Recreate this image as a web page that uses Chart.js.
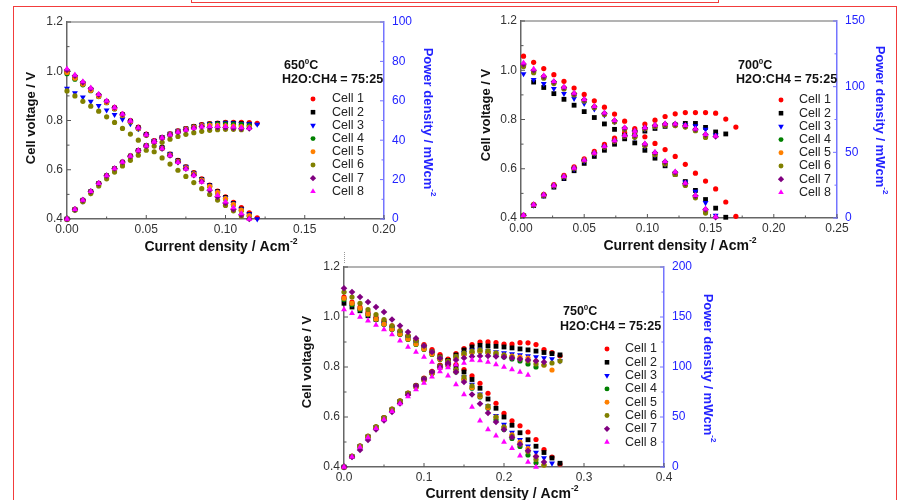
<!DOCTYPE html>
<html>
<head>
<meta charset="utf-8">
<script src="https://cdn.jsdelivr.net/npm/chart.js"></script>
<style>
  html, body { margin: 0; padding: 0; background: #fff; }
  #page { position: relative; width: 901px; height: 500px; overflow: hidden; }
  canvas { position: absolute; left: 0; top: 0; }
  .frame { position: absolute; left: 13px; top: 6px; width: 882px; height: 540px; border: 1.5px solid #f23c3c; }
  .topbox { position: absolute; left: 191px; top: -8px; width: 526px; height: 9px; border: 1.2px solid #f23c3c; }
  .dots { position: absolute; left: 344px; top: 252px; height: 11px; border-left: 1px dotted #999; }
</style>
</head>
<body>
<div id="page">
  <div class="frame"></div>
  <div class="topbox"></div>
  <div class="dots"></div>
  <canvas id="c650" width="901" height="500"></canvas>
  <canvas id="c700" width="901" height="500"></canvas>
  <canvas id="c750" width="901" height="500"></canvas>
</div>
<script>
// ---- data ----
const cells = ['Cell 1', 'Cell 2', 'Cell 3', 'Cell 4', 'Cell 5', 'Cell 6', 'Cell 7', 'Cell 8'];

// 650 C : current density (A/cm2), voltage (V), power (mW/cm2)
const i650 = [0.000,0.005,0.010,0.015,0.020,0.025,0.030,0.035,0.040,0.045,0.050,0.055,0.060,0.065,0.070,0.075,0.080,0.085,0.090,0.095,0.100,0.105,0.110,0.115,0.120];
const v650c1 = [1.000,0.978,0.952,0.928,0.903,0.878,0.853,0.826,0.800,0.773,0.745,0.718,0.690,0.664,0.638,0.612,0.588,0.563,0.538,0.513,0.490,0.468,0.446,0.425,0.405];
const p650c1 = [0,4.9,9.5,13.9,18.1,22.0,25.6,28.9,32.0,34.8,37.3,39.5,41.4,43.2,44.7,45.9,47.0,47.9,48.4,48.7,49.0,49.1,49.1,48.9,48.6];
const v650c2 = [0.998,0.975,0.950,0.925,0.900,0.875,0.850,0.823,0.797,0.770,0.743,0.716,0.690,0.663,0.637,0.611,0.586,0.561,0.536,0.511,0.487,0.463,0.440,0.418];
const p650c2 = [0,4.9,9.5,13.9,18.0,21.9,25.5,28.8,31.9,34.7,37.2,39.4,41.4,43.1,44.6,45.8,46.9,47.7,48.2,48.5,48.7,48.6,48.4,48.1];
const v650c3 = [0.930,0.912,0.895,0.877,0.860,0.842,0.824,0.805,0.786,0.766,0.742,0.716,0.690,0.663,0.637,0.611,0.586,0.561,0.536,0.511,0.487,0.463,0.440,0.420,0.400];
const p650c3 = [0,4.6,9.0,13.2,17.2,21.1,24.7,28.2,31.4,34.5,37.1,39.4,41.4,43.1,44.6,45.8,46.9,47.7,48.2,48.5,48.7,48.6,48.4,48.3,48.0];
const v650c4 = [0.990,0.968,0.945,0.921,0.897,0.872,0.847,0.820,0.794,0.767,0.740,0.713,0.686,0.659,0.633,0.607,0.582,0.557,0.532,0.507,0.482,0.458,0.435,0.412];
const p650c4 = [0,4.8,9.5,13.8,17.9,21.8,25.4,28.7,31.8,34.5,37.0,39.2,41.2,42.8,44.3,45.5,46.6,47.3,47.9,48.2,48.2,48.1,47.9,47.4];
const v650c5 = [0.995,0.972,0.948,0.923,0.898,0.873,0.848,0.821,0.795,0.768,0.741,0.714,0.687,0.660,0.634,0.608,0.583,0.558,0.533,0.508,0.483,0.459,0.436,0.414];
const p650c5 = [0,4.9,9.5,13.8,18.0,21.8,25.4,28.7,31.8,34.6,37.1,39.3,41.2,42.9,44.4,45.6,46.6,47.4,47.6,47.5,47.3,47.1,46.9,46.7];
const v650c6 = [0.920,0.900,0.878,0.858,0.838,0.815,0.792,0.768,0.745,0.720,0.697,0.673,0.648,0.623,0.598,0.573,0.548,0.523,0.500,0.477,0.455,0.433,0.412];
const p650c6 = [0,4.5,8.8,12.9,16.8,20.4,23.8,26.9,29.8,32.4,34.9,37.0,38.9,40.5,41.9,43.0,43.8,44.5,45.0,45.3,45.5,45.5,45.3];
const v650c7 = [1.005,0.982,0.955,0.930,0.905,0.878,0.852,0.825,0.798,0.770,0.742,0.714,0.686,0.658,0.631,0.604,0.578,0.552,0.517,0.490,0.465,0.440,0.417,0.400];
const p650c7 = [0,4.9,9.6,14.0,18.1,22.0,25.6,28.9,31.9,34.7,37.1,39.3,41.2,42.8,44.2,45.3,46.2,46.9,46.5,46.6,46.5,46.2,45.9,46.0];
const v650c8 = [1.010,0.985,0.958,0.932,0.906,0.880,0.853,0.826,0.798,0.770,0.742,0.714,0.686,0.658,0.630,0.603,0.576,0.550,0.522,0.496,0.470,0.446,0.422,0.400];
const p650c8 = [0,4.9,9.6,14.0,18.1,22.0,25.6,28.9,31.9,34.7,37.1,39.3,41.2,42.8,44.1,45.2,46.1,46.8,47.0,47.1,47.0,46.8,46.4,46.0];

// 700 C
const i700 = [0.002,0.010,0.018,0.026,0.034,0.042,0.050,0.058,0.066,0.074,0.082,0.090,0.098,0.106,0.114,0.122,0.130,0.138,0.146,0.154,0.162,0.170];
const v700c1 = [1.057,1.032,1.007,0.982,0.955,0.928,0.902,0.876,0.850,0.822,0.793,0.757,0.730,0.703,0.678,0.650,0.618,0.582,0.550,0.518,0.465,0.407];
const p700c1 = [2.1,10.3,18.1,25.5,32.5,39.0,45.1,50.8,56.1,60.8,65.0,68.1,71.5,74.5,77.3,79.3,80.3,80.3,80.3,79.8,75.3,69.2];
const v700c2 = [null,0.952,0.930,0.905,0.882,0.858,0.832,0.808,0.782,0.760,0.735,0.705,0.675,0.643,0.612,0.578,0.548,0.512,0.475,0.440,0.403];
const p700c2 = [null,9.5,16.7,23.5,30.0,36.0,41.6,46.9,51.6,56.2,60.3,63.5,66.2,68.2,69.8,71.0,72.0,72.0,69.0,65.5,64.0];
const v700c3 = [0.985,0.962,0.945,0.925,0.905,0.885,0.865,0.842,0.818,0.790,0.760,0.727,0.690,0.655,0.618,0.580,0.545,0.508,0.462,0.410];
const p700c3 = [2.0,9.6,17.0,24.1,30.8,37.2,43.3,48.8,54.0,58.5,62.3,65.4,67.6,69.4,70.5,70.8,70.9,70.1,67.5,63.1];
const v700c4 = [1.020,0.995,0.972,0.950,0.928,0.903,0.878,0.850,0.822,0.792,0.762,0.730,0.695,0.660,0.622,0.580,0.535,0.485,0.425];
const p700c4 = [2.0,10.0,17.5,24.7,31.6,37.9,43.9,49.3,54.3,58.6,62.5,65.7,68.1,70.0,70.9,70.8,69.6,66.9,62.1];
const v700c5 = [1.022,0.997,0.974,0.951,0.929,0.904,0.879,0.851,0.823,0.793,0.763,0.731,0.696,0.661,0.623,0.581,0.536,0.486,0.428];
const p700c5 = [2.0,10.0,17.5,24.7,31.6,38.0,44.0,49.4,54.3,58.7,62.6,65.8,68.2,70.1,71.0,70.9,69.7,67.1,62.5];
const v700c6 = [1.015,0.990,0.968,0.946,0.924,0.900,0.875,0.848,0.820,0.790,0.760,0.728,0.693,0.657,0.619,0.577,0.532,0.482,0.420];
const p700c6 = [2.0,9.9,17.4,24.6,31.4,37.8,43.8,49.2,54.1,58.5,62.3,65.5,67.9,69.6,70.6,70.4,69.2,66.5,61.3];
const v700c7 = [1.025,1.000,0.975,0.953,0.930,0.905,0.880,0.852,0.825,0.795,0.765,0.735,0.700,0.665,0.628,0.586,0.540,0.490,0.435,0.403];
const p700c7 = [2.1,10.0,17.6,24.8,31.6,38.0,44.0,49.4,54.5,58.8,62.7,66.2,68.6,70.5,71.6,71.5,70.2,67.6,63.5,62.0];
const v700c8 = [1.030,1.005,0.978,0.955,0.932,0.907,0.882,0.854,0.827,0.797,0.767,0.737,0.702,0.667,0.630,0.588,0.542,0.492,0.437,0.405];
const p700c8 = [2.1,10.1,17.6,24.8,31.7,38.1,44.1,49.5,54.6,59.0,62.9,66.3,68.8,70.7,71.8,71.7,70.5,67.9,63.8,62.4];

// 750 C
const i750 = [0.00,0.01,0.02,0.03,0.04,0.05,0.06,0.07,0.08,0.09,0.10,0.11,0.12,0.13,0.14,0.15,0.16,0.17,0.18,0.19,0.20,0.21,0.22,0.23,0.24,0.25,0.26,0.27];
const v750c1 = [1.080,1.060,1.040,1.020,1.000,0.985,0.965,0.945,0.925,0.908,0.890,0.870,0.850,0.830,0.810,0.790,0.765,0.735,0.695,0.655,0.615,0.585,0.565,0.540,0.510,0.470,0.440,0.412];
const p750c1 = [0,10.6,20.8,30.6,40.0,49.3,57.9,66.2,74.0,81.7,89.0,95.7,102.0,107.9,113.4,118.5,122.4,125.0,125.1,124.5,123.0,122.9,124.3,124.2,122.4,117.5,114.4,111.2];
const v750c2 = [1.055,1.040,1.025,1.005,0.990,0.975,0.955,0.935,0.920,0.900,0.880,0.860,0.840,0.820,0.800,0.780,0.750,0.715,0.672,0.635,0.600,0.567,0.537,0.509,0.483,0.458,0.436,0.415];
const p750c2 = [0,10.4,20.5,30.2,39.6,48.8,57.3,65.5,73.6,81.0,88.0,94.6,100.8,106.6,112.0,117.0,120.0,121.6,121.0,120.7,120.0,119.1,118.1,117.1,115.9,114.5,113.4,112.1];
const v750c3 = [1.070,1.050,1.030,1.010,0.990,0.972,0.955,0.935,0.915,0.895,0.875,0.855,0.835,0.810,0.785,0.760,0.730,0.691,0.644,0.605,0.570,0.538,0.509,0.483,0.458,0.436,0.415];
const p750c3 = [0,10.5,20.6,30.3,39.6,48.6,57.3,65.5,73.2,80.6,87.5,94.1,100.2,105.3,109.9,114.0,116.8,117.5,116.0,115.0,114.0,113.0,112.0,111.0,110.0,109.0,108.0,106.0];
const v750c4 = [1.070,1.050,1.030,1.010,0.990,0.970,0.950,0.930,0.910,0.890,0.870,0.850,0.830,0.805,0.780,0.750,0.715,0.680,0.635,0.589,0.550,0.514,0.482,0.448,0.417];
const p750c4 = [0,10.5,20.6,30.3,39.6,48.5,57.0,65.1,72.8,80.1,87.0,93.5,99.6,104.7,109.2,112.5,114.4,115.6,114.3,112.0,110.0,108.0,106.0,103.0,100.0];
const v750c5 = [1.075,1.055,1.035,1.012,0.992,0.972,0.952,0.932,0.912,0.892,0.872,0.852,0.832,0.807,0.782,0.752,0.718,0.683,0.638,0.600,0.560,0.529,0.500,0.474,0.442,0.408];
const p750c5 = [0,10.6,20.7,30.4,39.7,48.6,57.1,65.2,73.0,80.3,87.2,93.7,99.8,104.9,109.5,112.8,114.9,116.1,114.8,114.0,112.0,111.0,110.0,109.0,106.0,102.0,97.0];
const v750c6 = [1.100,1.080,1.055,1.030,1.010,0.990,0.965,0.945,0.925,0.905,0.885,0.862,0.840,0.815,0.790,0.760,0.725,0.688,0.644,0.600,0.560,0.524,0.491,0.461,0.430,0.408];
const p750c6 = [0,10.8,21.1,30.9,40.4,49.5,57.9,66.2,74.0,81.5,88.5,94.8,100.8,106.0,110.6,114.0,116.0,117.0,116.0,114.0,112.0,110.0,108.0,106.0,103.0,102.0,104.0,106.0];
const v750c7 = [1.115,1.100,1.080,1.060,1.040,1.020,0.990,0.965,0.940,0.915,0.885,0.860,0.835,0.810,0.780,0.740,0.690,0.653,0.616,0.580,0.550,0.519,0.491,0.465,0.442,0.420];
const p750c7 = [0,10.0,17.0,27.0,37.5,46.5,55.0,63.5,72.0,81.0,88.0,95.0,100.0,104.0,107.0,109.0,110.5,111.0,111.0,110.5,110.0,109.0,108.0,107.0,106.0,105.0];
const v750c8 = [1.030,1.015,1.000,0.985,0.968,0.950,0.930,0.905,0.880,0.860,0.840,0.820,0.795,0.765,0.730,0.690,0.640,0.585,0.550,0.525,0.500,0.475,0.445,0.420,0.400];
const p750c8 = [0,10.2,20.0,29.5,38.7,47.5,55.8,63.4,70.4,77.4,84.0,90.2,95.4,99.5,102.2,104.0,107.0,106.5,105.0,102.5,100.0,97.5,95.0,92.0];

// axis ticks
const vTicks = { min: 0.4, max: 1.2, step: 0.2 };
const xTicks650 = { max: 0.20, step: 0.05 };
const xTicks700 = { max: 0.25, step: 0.05 };
const xTicks750 = { max: 0.4, step: 0.1 };
const pTicks650 = { max: 100, step: 20 };
const pTicks700 = { max: 150, step: 50 };
const pTicks750 = { max: 200, step: 50 };

// ---- styles ----
const FONT = '"Liberation Sans", Arial, sans-serif';
const colors = ['#ff0000', '#000000', '#0000ff', '#008000', '#ff8000', '#808000', '#800080', '#ff00ff'];
const styles = ['circle', 'rect', 'triangle', 'circle', 'circle', 'circle', 'rectRot', 'triangle'];
const rotations = [0, 0, 180, 0, 0, 0, 0, 0];
const radii = [2.6, 3.4, 3.4, 2.6, 2.6, 2.6, 3.3, 3.4];
const BLUE_AXIS = '#7474ff';
const BLUE_TEXT = '#2323ff';
const AXW = 40, AXH = 30;

Chart.defaults.font.family = FONT;

function pts(cur, vals) {
  const out = [];
  vals.forEach((v, i) => { if (v !== null) out.push({ x: cur[i], y: v }); });
  return out;
}

function marker(ctx, st, x, y, r, rot) {
  ctx.beginPath();
  if (st === 'circle') {
    ctx.arc(x, y, r, 0, Math.PI * 2);
  } else if (st === 'rect') {
    const s = r * Math.SQRT1_2;
    ctx.rect(x - s, y - s, 2 * s, 2 * s);
  } else if (st === 'rectRot') {
    ctx.moveTo(x - r, y); ctx.lineTo(x, y - r); ctx.lineTo(x + r, y); ctx.lineTo(x, y + r); ctx.closePath();
  } else {
    let a = rot * Math.PI / 180;
    for (let k = 0; k < 3; k++) {
      const px = x + Math.sin(a) * r, py = y - Math.cos(a) * r;
      if (k) ctx.lineTo(px, py); else ctx.moveTo(px, py);
      a += 2 * Math.PI / 3;
    }
    ctx.closePath();
  }
  ctx.fill();
}

function supText(ctx, main, sup, size, color) {
  // draws centred at 0,0
  ctx.fillStyle = color;
  ctx.textBaseline = 'middle';
  ctx.textAlign = 'left';
  ctx.font = `bold ${size}px ${FONT}`;
  const w1 = ctx.measureText(main).width;
  ctx.font = `bold ${size * 0.62}px ${FONT}`;
  const w2 = ctx.measureText(sup).width;
  const x0 = -(w1 + w2) / 2;
  ctx.font = `bold ${size}px ${FONT}`;
  ctx.fillText(main, x0, 0);
  ctx.font = `bold ${size * 0.62}px ${FONT}`;
  ctx.fillText(sup, x0 + w1, -size * 0.38);
}

const decor = {
  id: 'decor',
  beforeDatasetsDraw(chart) {
    const { ctx, chartArea: a, scales } = chart;
    ctx.save();
    ctx.strokeStyle = '#9a9a9a';
    ctx.lineWidth = 1.5;
    ctx.beginPath(); ctx.moveTo(a.left, a.top); ctx.lineTo(a.right, a.top); ctx.stroke();
    const tickSet = (scale) => {
      const v = scale.ticks.map(t => t.value);
      const out = v.map(val => [val, 4]);
      for (let k = 0; k < v.length - 1; k++) out.push([(v[k] + v[k + 1]) / 2, 2.5]);
      return out;
    };
    ctx.lineWidth = 1;
    ctx.strokeStyle = '#555';
    tickSet(scales.x).forEach(([val, len]) => {
      const px = scales.x.getPixelForValue(val);
      ctx.beginPath(); ctx.moveTo(px, a.bottom); ctx.lineTo(px, a.bottom - len); ctx.stroke();
    });
    tickSet(scales.y).forEach(([val, len]) => {
      const py = scales.y.getPixelForValue(val);
      ctx.beginPath(); ctx.moveTo(a.left, py); ctx.lineTo(a.left + len, py); ctx.stroke();
    });
    ctx.strokeStyle = BLUE_AXIS;
    tickSet(scales.y2).forEach(([val, len]) => {
      const py = scales.y2.getPixelForValue(val);
      ctx.beginPath(); ctx.moveTo(a.right, py); ctx.lineTo(a.right - len, py); ctx.stroke();
    });
    ctx.restore();
  },
  afterDraw(chart, args, o) {
    const { ctx } = chart;
    ctx.save();
    // axis titles
    ctx.save(); ctx.translate(o.yTitle[0], o.yTitle[1]); ctx.rotate(-Math.PI / 2);
    supText(ctx, 'Cell voltage / V', '', 13, '#111'); ctx.restore();
    ctx.save(); ctx.translate(o.xTitle[0], o.xTitle[1]);
    supText(ctx, 'Current density / Acm', '-2', 14, '#111'); ctx.restore();
    ctx.save(); ctx.translate(o.pTitle[0], o.pTitle[1]); ctx.rotate(Math.PI / 2);
    supText(ctx, 'Power density / mWcm', '-2', 13, BLUE_TEXT); ctx.restore();

    // temperature and gas ratio
    ctx.fillStyle = '#111';
    ctx.textBaseline = 'middle';
    ctx.textAlign = 'left';
    ctx.font = `bold 12.5px ${FONT}`;
    let x = o.note[0];
    ctx.fillText(o.temp, x, o.note[2]);
    x += ctx.measureText(o.temp).width;
    ctx.font = `bold 8px ${FONT}`;
    ctx.fillText('0', x, o.note[2] - 4.5);
    x += ctx.measureText('0').width;
    ctx.font = `bold 12.5px ${FONT}`;
    ctx.fillText('C', x, o.note[2]);
    ctx.fillText('H2O:CH4 = 75:25', o.note[1], o.note[3]);

    // legend
    ctx.font = `12.5px ${FONT}`;
    cells.forEach((name, k) => {
      const y = o.legend[2] + k * o.legend[3];
      ctx.fillStyle = colors[k];
      marker(ctx, styles[k], o.legend[0], y, radii[k] * 0.95, rotations[k]);
      ctx.fillStyle = '#222';
      ctx.fillText(name, o.legend[1], y);
    });
    ctx.restore();
  }
};

function makeChart(id, cur, vSets, pSets, xt, pt, dec, lay) {
  const a = lay.area;
  const datasets = [];
  cells.forEach((name, k) => {
    const common = {
      pointStyle: styles[k], pointRotation: rotations[k], pointRadius: radii[k],
      backgroundColor: colors[k], borderColor: colors[k], pointBorderWidth: 0, borderWidth: 0,
      showLine: false, clip: false, order: 7 - k
    };
    datasets.push(Object.assign({ label: name + ' V', data: pts(cur, vSets[k]), yAxisID: 'y' }, common));
    datasets.push(Object.assign({ label: name + ' P', data: pts(cur, pSets[k]), yAxisID: 'y2' }, common));
  });
  const tickFont = { family: FONT, size: 12 };
  const noGrid = { display: false, drawTicks: false };
  new Chart(document.getElementById(id), {
    type: 'scatter',
    data: { datasets },
    options: {
      responsive: false,
      animation: false,
      devicePixelRatio: 1,
      events: [],
      layout: { padding: { left: a.left - AXW, right: 901 - a.right - AXW, top: a.top, bottom: 500 - a.bottom - AXH } },
      plugins: { legend: { display: false }, tooltip: { enabled: false }, decor: lay },
      scales: {
        x: {
          type: 'linear', min: 0, max: xt.max,
          grid: noGrid, border: { color: '#666', width: 1.5 },
          ticks: { stepSize: xt.step, padding: 3, color: '#333', font: tickFont, maxRotation: 0, autoSkip: false,
                   callback: v => v.toFixed(dec) },
          afterFit: s => { s.height = AXH; }
        },
        y: {
          type: 'linear', position: 'left', min: vTicks.min, max: vTicks.max,
          grid: noGrid, border: { color: '#666', width: 1.5 },
          ticks: { stepSize: vTicks.step, padding: 4, color: '#333', font: tickFont, callback: v => v.toFixed(1) },
          afterFit: s => { s.width = AXW; }
        },
        y2: {
          type: 'linear', position: 'right', min: 0, max: pt.max,
          grid: noGrid, border: { color: BLUE_AXIS, width: 1.5 },
          ticks: { stepSize: pt.step, padding: 8, color: BLUE_TEXT, font: tickFont },
          afterFit: s => { s.width = AXW; }
        }
      }
    },
    plugins: [decor]
  });
}

makeChart('c650', i650,
  [v650c1, v650c2, v650c3, v650c4, v650c5, v650c6, v650c7, v650c8],
  [p650c1, p650c2, p650c3, p650c4, p650c5, p650c6, p650c7, p650c8],
  xTicks650, pTicks650, 2,
  { area: { left: 67, right: 384, top: 22, bottom: 219 }, temp: '650',
    yTitle: [31, 118], xTitle: [221, 247], pTitle: [428, 122],
    note: [284, 282, 66, 80], legend: [313, 332, 99, 13.2] });

makeChart('c700', i700,
  [v700c1, v700c2, v700c3, v700c4, v700c5, v700c6, v700c7, v700c8],
  [p700c1, p700c2, p700c3, p700c4, p700c5, p700c6, p700c7, p700c8],
  xTicks700, pTicks700, 2,
  { area: { left: 521, right: 837, top: 21, bottom: 218 }, temp: '700',
    yTitle: [486, 115], xTitle: [680, 246], pTitle: [880, 120],
    note: [738, 736, 66, 80], legend: [781, 799, 100, 13.2] });

makeChart('c750', i750,
  [v750c1, v750c2, v750c3, v750c4, v750c5, v750c6, v750c7, v750c8],
  [p750c1, p750c2, p750c3, p750c4, p750c5, p750c6, p750c7, p750c8],
  xTicks750, pTicks750, 1,
  { area: { left: 344, right: 664, top: 267, bottom: 467 }, temp: '750',
    yTitle: [307, 362], xTitle: [502, 494], pTitle: [708, 368],
    note: [563, 560, 312, 327], legend: [607, 625, 349, 13.3] });
</script>
</body>
</html>
